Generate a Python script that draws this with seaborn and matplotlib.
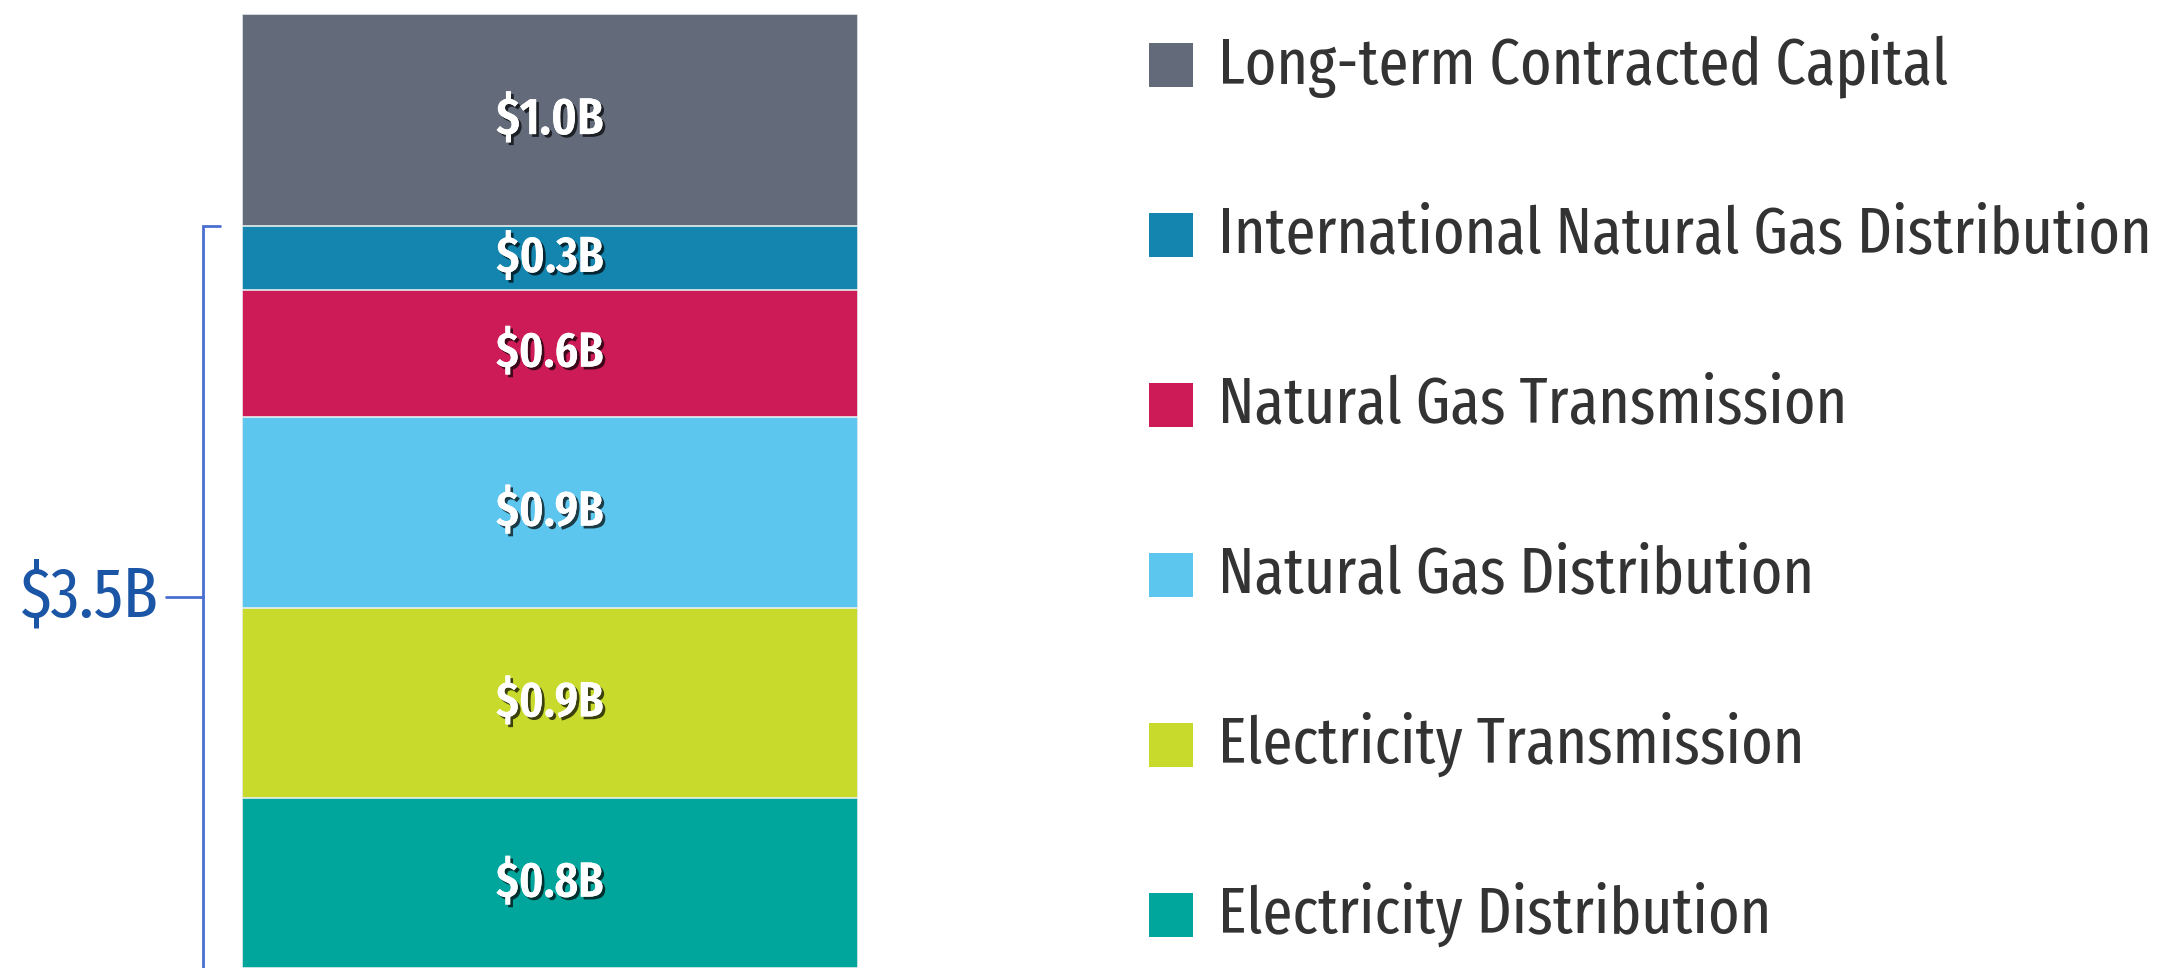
import matplotlib
matplotlib.use("Agg")
import matplotlib.pyplot as plt
import matplotlib.patheffects as pe
from matplotlib import font_manager as fm
from matplotlib.patches import Rectangle
import pandas as pd
import seaborn as sns

# segments, bottom to top
segments = ["Electricity Distribution", "Electricity Transmission",
            "Natural Gas Distribution", "Natural Gas Transmission",
            "International Natural Gas Distribution", "Long-term Contracted Capital"]
values = [0.8, 0.9, 0.9, 0.6, 0.3, 1.0]
labels = ["$0.8B", "$0.9B", "$0.9B", "$0.6B", "$0.3B", "$1.0B"]
colors = ["#00a69c", "#c8da2b", "#5cc6ee", "#cd1b58", "#1385ae", "#636b7a"]
bracket_total = 3.5
bracket_label = "$3.5B"

sns.set_theme(style="white")
plt.rcParams["font.family"] = ["DejaVu Sans"]


def pick_font(weight):
    # narrowest sans face near the wanted weight, else plain DejaVu
    cands = []
    for f in fm.fontManager.ttflist:
        key = (f.name + " " + f.fname).lower().replace(" ", "")
        if f.style != "normal" or "mono" in key or "serif" in key.replace("sans", ""):
            continue
        if "condensed" in key or "narrow" in key or f.stretch != "normal":
            w = f.weight if isinstance(f.weight, int) else 400
            rank = 0 if "extracondensed" in key else 1
            if "semicondensed" in key:
                rank = 2
            cands.append((rank, abs(w - weight), f.fname))
    if cands:
        cands.sort()
        return fm.FontProperties(fname=cands[0][2])
    return fm.FontProperties(family="DejaVu Sans",
                             weight="bold" if weight >= 600 else "normal")


font_leg = pick_font(400)
font_lab = pick_font(600)

W, H = 2170, 968
fig = plt.figure(figsize=(W / 100, H / 100), dpi=100)
ax = fig.add_axes([242 / W, 0, 616 / W, 954 / H])
renderer = fig.canvas.get_renderer()


def fit_width(t, target_px):
    w = t.get_window_extent(renderer).width
    t.set_fontsize(t.get_fontsize() * target_px / w)


df = pd.DataFrame({"segment": segments, "value": values, "label": labels})
df["top"] = df["value"].cumsum()
df["bottom"] = df["top"] - df["value"]

# draw tallest cumulative bar first so each layer shows as a segment
for i in range(len(df) - 1, -1, -1):
    sns.barplot(x=["total"], y=[df["top"][i]], color=colors[i], width=1.0,
                edgecolor="#e8eef0", linewidth=1.2, saturation=1, ax=ax)

ax.set_xlim(-0.5, 0.5)
ax.set_ylim(0, df["top"].iloc[-1])
ax.axis("off")

shadow = [pe.withSimplePatchShadow(offset=(2, -2), shadow_rgbFace="black", alpha=0.7),
          pe.Normal()]
for _, row in df.iterrows():
    t = ax.text(0, (row["bottom"] + row["top"]) / 2, row["label"], color="white",
                fontproperties=font_lab, fontsize=30, ha="center", va="center",
                path_effects=shadow)
    fit_width(t, 107)

# bracket over the first five segments
tr = ax.get_yaxis_transform()
bx = (203 - 242) / 616
bc = "#4a6fd0"
ax.plot([bx + 0.027, bx, bx], [bracket_total, bracket_total, 0], color=bc,
        lw=2, transform=tr, clip_on=False, solid_joinstyle="miter")
ax.plot([(166 - 242) / 616, bx], [bracket_total / 2] * 2, color=bc, lw=2,
        transform=tr, clip_on=False)
t = ax.text((159 - 242) / 616, bracket_total / 2, bracket_label, color="#1a55a6",
            fontproperties=font_leg, fontsize=40, ha="right", va="center",
            transform=tr)
fit_width(t, 138)

# legend, top to bottom
leg_texts = []
for k, (name, c) in enumerate(zip(segments[::-1], colors[::-1])):
    yc = 65 + 170 * k
    fig.add_artist(Rectangle((1149 / W, 1 - (yc + 22) / H), 44 / W, 44 / H,
                             transform=fig.transFigure, facecolor=c,
                             edgecolor="none"))
    leg_texts.append(fig.text(1218 / W, 1 - yc / H, name, color="#333333",
                              fontproperties=font_leg, fontsize=44, va="center"))
widest = max(leg_texts, key=lambda t: t.get_window_extent(renderer).width)
scale = 934 / widest.get_window_extent(renderer).width
for t in leg_texts:
    t.set_fontsize(44 * scale)

fig.savefig("out.png", dpi=100, facecolor="white")
